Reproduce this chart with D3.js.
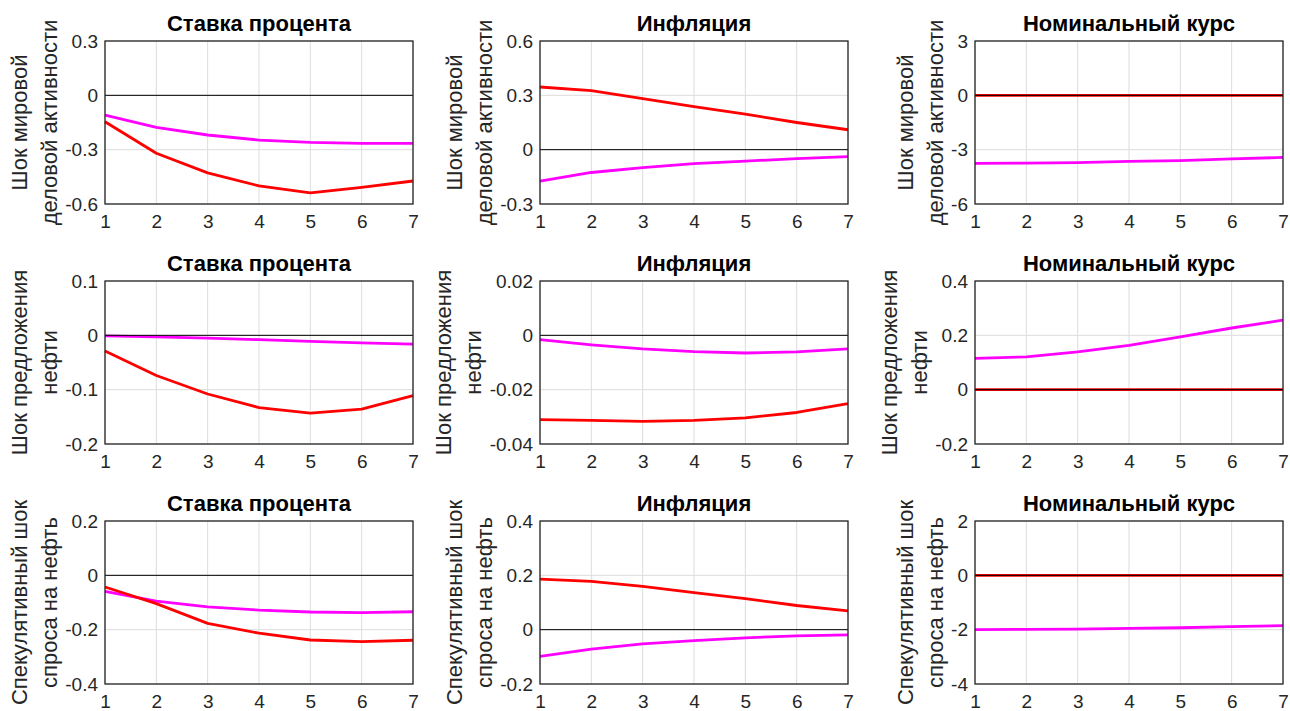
<!DOCTYPE html>
<html>
<head>
<meta charset="utf-8">
<script src="https://cdn.jsdelivr.net/npm/d3@7"></script>
<style>
  html, body { margin: 0; padding: 0; background: #ffffff; }
  svg { display: block; font-family: "Liberation Sans", Arial, Helvetica, sans-serif; }
</style>
</head>
<body>
<svg id="chart" width="1290" height="711"></svg>
<script>
// ---------- data ----------
const horizons = [1, 2, 3, 4, 5, 6, 7];
const xTicks = [1, 2, 3, 4, 5, 6, 7];
const variableTitles = ["Ставка процента", "Инфляция", "Номинальный курс"];
const shockLabels = [
  ["Шок мировой", "деловой активности"],
  ["Шок предложения", "нефти"],
  ["Спекулятивный шок", "спроса на нефть"]
];

// y tick values per row (shock) and column (variable)
const yTicksWorld = [[-0.6, -0.3, 0, 0.3], [-0.3, 0, 0.3, 0.6], [-6, -3, 0, 3]];
const yTicksSupply = [[-0.2, -0.1, 0, 0.1], [-0.04, -0.02, 0, 0.02], [-0.2, 0, 0.2, 0.4]];
const yTicksSpec = [[-0.4, -0.2, 0, 0.2], [-0.2, 0, 0.2, 0.4], [-4, -2, 0, 2]];

// red series: [rate, inflation, exchange rate]
const worldRed = [
  [-0.146, -0.32, -0.428, -0.50, -0.538, -0.508, -0.473],
  [0.346, 0.326, 0.282, 0.238, 0.196, 0.150, 0.110],
  [0, 0, 0, 0, 0, 0, 0]
];
const worldMagenta = [
  [-0.109, -0.177, -0.219, -0.247, -0.260, -0.265, -0.265],
  [-0.174, -0.126, -0.099, -0.077, -0.063, -0.050, -0.038],
  [-3.76, -3.74, -3.71, -3.65, -3.60, -3.51, -3.43]
];
const supplyRed = [
  [-0.029, -0.074, -0.108, -0.133, -0.143, -0.136, -0.111],
  [-0.0310, -0.0313, -0.0317, -0.0313, -0.0304, -0.0284, -0.0251],
  [0, 0, 0, 0, 0, 0, 0]
];
const supplyMagenta = [
  [-0.001, -0.003, -0.005, -0.008, -0.011, -0.014, -0.016],
  [-0.0016, -0.0035, -0.0050, -0.0060, -0.0065, -0.0061, -0.0050],
  [0.115, 0.121, 0.139, 0.163, 0.194, 0.227, 0.256]
];
const specRed = [
  [-0.043, -0.104, -0.177, -0.213, -0.238, -0.244, -0.239],
  [0.186, 0.178, 0.159, 0.136, 0.114, 0.089, 0.069],
  [0, 0, 0, 0, 0, 0, 0]
];
const specMagenta = [
  [-0.059, -0.095, -0.116, -0.128, -0.135, -0.137, -0.134],
  [-0.098, -0.072, -0.052, -0.040, -0.030, -0.023, -0.019],
  [-2.00, -1.99, -1.98, -1.95, -1.93, -1.89, -1.85]
];

const rowTicks = [yTicksWorld, yTicksSupply, yTicksSpec];
const rowRed = [worldRed, supplyRed, specRed];
const rowMagenta = [worldMagenta, supplyMagenta, specMagenta];

// ---------- layout ----------
const colLeft = [105, 540, 975];
const plotW = 308;
const rowTop = [41, 281, 521];
const plotH = 163;

const svg = d3.select("#chart");

for (let r = 0; r < 3; r++) {
  for (let c = 0; c < 3; c++) {
    const ticks = rowTicks[r][c];
    const x = d3.scaleLinear().domain([1, 7]).range([0, plotW]);
    const y = d3.scaleLinear().domain([ticks[0], ticks[ticks.length - 1]]).range([plotH, 0]);
    const g = svg.append("g").attr("transform", `translate(${colLeft[c]},${rowTop[r]})`);

    // grid
    g.append("g").selectAll("line").data(xTicks).join("line")
      .attr("x1", d => x(d)).attr("x2", d => x(d))
      .attr("y1", 0).attr("y2", plotH)
      .attr("stroke", "#dcdcdc").attr("stroke-width", 1);
    g.append("g").selectAll("line").data(ticks).join("line")
      .attr("x1", 0).attr("x2", plotW)
      .attr("y1", d => y(d)).attr("y2", d => y(d))
      .attr("stroke", "#dcdcdc").attr("stroke-width", 1);

    const line = d3.line().x((d, i) => x(horizons[i])).y(d => y(d));

    g.append("path").datum(rowMagenta[r][c])
      .attr("d", line).attr("fill", "none")
      .attr("stroke", "#ff00ff").attr("stroke-width", 2.8)
      .attr("stroke-linejoin", "round");
    g.append("path").datum(rowRed[r][c])
      .attr("d", line).attr("fill", "none")
      .attr("stroke", "#ff0000").attr("stroke-width", 2.8)
      .attr("stroke-linejoin", "round");

    // zero line
    g.append("line")
      .attr("x1", 0).attr("x2", plotW)
      .attr("y1", y(0)).attr("y2", y(0))
      .attr("stroke", "#000000").attr("stroke-width", 1);

    // axes
    const xAxis = d3.axisBottom(x).tickValues(xTicks).tickSize(0).tickPadding(11).tickFormat(d3.format("d"));
    const yAxis = d3.axisLeft(y).tickValues(ticks).tickSize(0).tickPadding(7).tickFormat(d => String(d));

    const gx = g.append("g").attr("transform", `translate(0,${plotH})`).call(xAxis);
    const gy = g.append("g").call(yAxis);
    [gx, gy].forEach(a => {
      a.select(".domain").remove();
      a.selectAll("text").attr("font-size", 19).attr("fill", "#262626")
        .attr("font-family", "'Liberation Sans', Arial, sans-serif");
    });

    // box
    g.append("rect").attr("x", 0).attr("y", 0).attr("width", plotW).attr("height", plotH)
      .attr("fill", "none").attr("stroke", "#262626").attr("stroke-width", 1.3);

    // title
    g.append("text")
      .attr("x", plotW / 2).attr("y", -10)
      .attr("text-anchor", "middle")
      .attr("font-size", 22).attr("font-weight", "bold").attr("fill", "#000")
      .text(variableTitles[c]);

    // y label (two lines)
    let maxW = 0;
    gy.selectAll("text").each(function () { maxW = Math.max(maxW, this.getBBox().width); });
    const baseline2 = -7 - maxW - 8;
    const lab = g.append("text")
      .attr("transform", `translate(${baseline2},${plotH / 2}) rotate(-90)`)
      .attr("text-anchor", "middle")
      .attr("font-size", 22).attr("fill", "#262626");
    lab.append("tspan").attr("x", 0).attr("y", -30).text(shockLabels[r][0]);
    lab.append("tspan").attr("x", 0).attr("y", 0).text(shockLabels[r][1]);
  }
}
</script>
</body>
</html>
